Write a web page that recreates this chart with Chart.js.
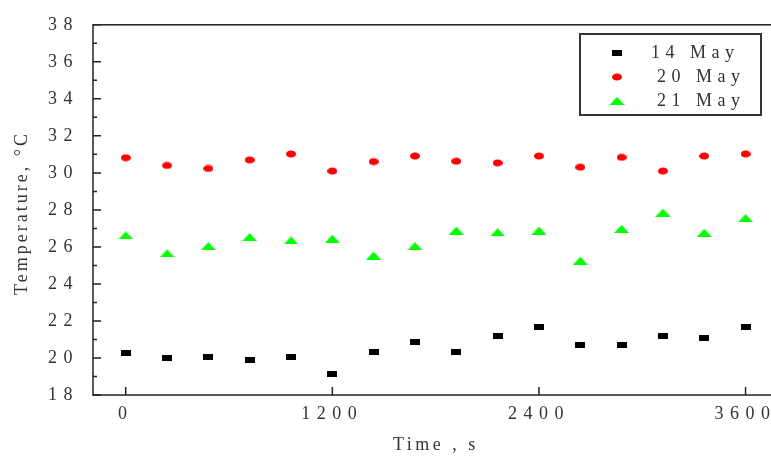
<!DOCTYPE html>
<html>
<head>
<meta charset="utf-8">
<script src="https://cdn.jsdelivr.net/npm/chart.js@4.4.0/dist/chart.umd.min.js"></script>
<style>
  html, body { margin: 0; padding: 0; background: #fff; overflow: hidden; }
  #wrap { width: 800px; height: 456px; }
</style>
</head>
<body>
<div id="wrap"><canvas id="tempChart"></canvas></div>
<script>
// values
const times = [0, 240, 480, 720, 960, 1200, 1440, 1680, 1920, 2160, 2400, 2640, 2880, 3120, 3360, 3600];
const may14 = [20.25, 19.99, 20.07, 19.88, 20.07, 19.15, 20.34, 20.85, 20.34, 21.18, 21.69, 20.68, 20.68, 21.18, 21.10, 21.69];
const may20 = [30.82, 30.40, 30.24, 30.70, 31.02, 30.10, 30.61, 30.91, 30.63, 30.54, 30.91, 30.31, 30.84, 30.10, 30.91, 31.02];
const may21 = [26.62, 25.65, 26.04, 26.53, 26.35, 26.44, 25.53, 26.04, 26.88, 26.79, 26.88, 25.25, 26.97, 27.85, 26.76, 27.55];
const seriesNames = ['14 May', '20 May', '21 May'];
const xTicks = [0, 1200, 2400, 3600];
const yTicks = [18, 20, 22, 24, 26, 28, 30, 32, 34, 36, 38];
const yMinorTicks = [19, 21, 23, 25, 27, 29, 31, 33, 35, 37];

const SERIF = '"Liberation Serif", "Times New Roman", serif';
const TEXT = '#333';

// little canvases used as point markers (Origin style)
function marker(kind, color) {
  const c = document.createElement('canvas');
  const g = c.getContext('2d');
  if (kind === 'rect') {
    c.width = 10; c.height = 6;
    g.fillStyle = color; g.fillRect(0, 0, 10, 6);
  } else if (kind === 'dot') {
    c.width = 10; c.height = 8;
    g.fillStyle = color; g.beginPath(); g.ellipse(5, 4, 5, 3.6, 0, 0, Math.PI * 2); g.fill();
  } else {
    c.width = 15; c.height = 8;
    g.fillStyle = color; g.beginPath(); g.moveTo(0, 8); g.lineTo(7.5, 0); g.lineTo(15, 8); g.closePath(); g.fill();
  }
  return c;
}
const markers = [marker('rect', '#000'), marker('dot', '#ff0000'), marker('tri', '#00ff00')];

function toPoints(ys) { return times.map((t, i) => ({ x: t, y: ys[i] })); }

// frame, inward ticks, titles and boxed legend
const decor = {
  id: 'decor',
  beforeDraw(chart) { chart.ctx.letterSpacing = '6.5px'; },
  beforeDatasetsDraw(chart) { chart.ctx.letterSpacing = '0px'; },
  afterDraw(chart) {
    const ctx = chart.ctx;
    const a = chart.chartArea;
    const xs = chart.scales.x, ys = chart.scales.y;
    ctx.save();
    ctx.strokeStyle = '#222';
    ctx.lineWidth = 1.5;
    ctx.strokeRect(a.left, a.top, a.right - a.left, a.bottom - a.top);
    ctx.beginPath();
    yTicks.forEach(v => { const p = ys.getPixelForValue(v); ctx.moveTo(a.left, p); ctx.lineTo(a.left + 8, p); });
    yMinorTicks.forEach(v => { const p = ys.getPixelForValue(v); ctx.moveTo(a.left, p); ctx.lineTo(a.left + 4, p); });
    xTicks.forEach(v => { const p = xs.getPixelForValue(v); ctx.moveTo(p, a.bottom); ctx.lineTo(p, a.bottom - 8); });
    ctx.stroke();

    // axis titles
    ctx.fillStyle = TEXT;
    ctx.font = '18px ' + SERIF;
    ctx.letterSpacing = '3.5px';
    ctx.textAlign = 'left';
    ctx.textBaseline = 'middle';
    ctx.fillText('Time , s', 393, 445);
    ctx.save();
    ctx.translate(27, 213);
    ctx.rotate(-Math.PI / 2);
    ctx.letterSpacing = '3px';
    ctx.textAlign = 'center';
    ctx.textBaseline = 'alphabetic';
    ctx.fillText('Temperature, °C', 0, 0);
    ctx.restore();

    // legend
    ctx.strokeStyle = '#333';
    ctx.lineWidth = 2;
    ctx.strokeRect(580, 34, 181, 81);
    ctx.letterSpacing = '5.5px';
    ctx.textBaseline = 'middle';
    const rows = [53, 77, 101];
    const textX = [651, 657, 657];
    seriesNames.forEach((name, i) => {
      const m = markers[i];
      ctx.drawImage(m, 617 - m.width / 2, rows[i] - m.height / 2);
      ctx.fillText(name, textX[i], rows[i]);
    });
    ctx.restore();
  }
};

new Chart(document.getElementById('tempChart'), {
  type: 'scatter',
  data: {
    datasets: [
      { label: seriesNames[0], data: toPoints(may14), pointStyle: markers[0], backgroundColor: '#000', borderColor: '#000' },
      { label: seriesNames[1], data: toPoints(may20), pointStyle: markers[1], backgroundColor: '#ff0000', borderColor: '#ff0000' },
      { label: seriesNames[2], data: toPoints(may21), pointStyle: markers[2], backgroundColor: '#00ff00', borderColor: '#00ff00' }
    ]
  },
  options: {
    responsive: true,
    maintainAspectRatio: false,
    animation: false,
    layout: { padding: { top: 16, right: 20, left: 0, bottom: 0 } },
    plugins: { legend: { display: false }, tooltip: { enabled: false } },
    scales: {
      x: {
        type: 'linear',
        min: -190,
        max: 3800,
        grid: { display: false, drawTicks: false },
        border: { display: false },
        afterBuildTicks: s => { s.ticks = xTicks.map(v => ({ value: v })); },
        afterFit: s => { s.height = 61; },
        ticks: { color: TEXT, font: { family: SERIF, size: 18 }, padding: 8, maxRotation: 0, callback: v => String(v) }
      },
      y: {
        min: 18,
        max: 38,
        grid: { display: false, drawTicks: false },
        border: { display: false },
        afterBuildTicks: s => { s.ticks = yTicks.map(v => ({ value: v })); },
        afterFit: s => { s.width = 93; },
        ticks: { color: TEXT, font: { family: SERIF, size: 18 }, padding: 14, callback: v => String(v) }
      }
    }
  },
  plugins: [decor]
});
</script>
</body>
</html>
